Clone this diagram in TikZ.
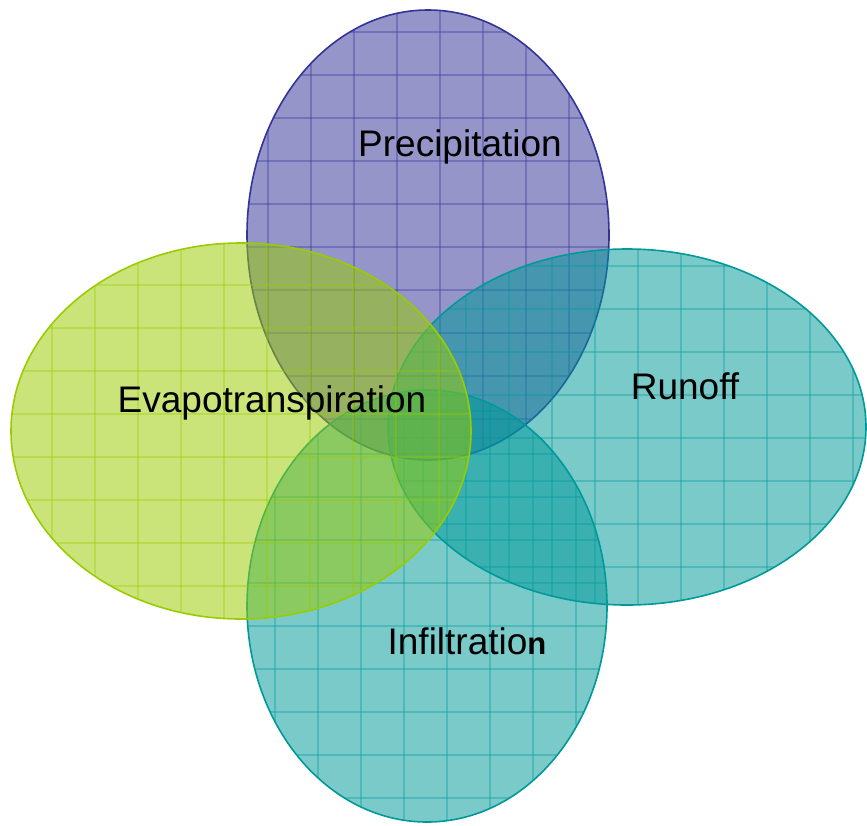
\documentclass[tikz,border=0pt]{standalone}
\usepackage{fontspec}
\setmainfont{Liberation Sans}
\definecolor{cBlue}{HTML}{333399}
\definecolor{cTeal}{HTML}{009999}
\definecolor{cLime}{HTML}{99CC00}
\tikzset{
  petal/.style={draw=#1, line width=1.6pt, fill=#1, fill opacity=0.52},
  gridlines/.style={draw=#1, line width=1.5pt, draw opacity=0.35},
  lbl/.style={font=\fontsize{37}{40}\selectfont, text=black, inner sep=0pt}
}
\newcommand{\petalshape}[6]{%
  \path[petal=#1] (#2,#3) ellipse [x radius=#4, y radius=#5];
  \begin{scope}
    \clip (#2,#3) ellipse [x radius=#4, y radius=#5];
    \foreach \k in {-6,...,6} {
      \path[gridlines=#1] ({#2+\k*43+#6},{#3-#5}) -- ({#2+\k*43+#6},{#3+#5});
      \path[gridlines=#1] ({#2-#4},{#3+\k*43+#6}) -- ({#2+#4},{#3+\k*43+#6});
    }
  \end{scope}
}
\begin{document}
\begin{tikzpicture}[x=1pt,y=-1pt]
\useasboundingbox (0,0) rectangle (867,825);
\petalshape{cBlue}{428}{235}{181}{225}{12}
\petalshape{cTeal}{627}{427}{239}{178}{11}
\petalshape{cTeal}{427}{606}{180}{216}{20}
\petalshape{cLime}{241}{431}{230}{188}{26}
\node[lbl] (prec) at (460,147) {Precipitation};
\node[lbl] (run) at (685,386) {Runoff};
\node[lbl] (evap) at (272,403) {Evapotranspiration};
\node[lbl] (infl) at (467,641) {Infiltratio{\bfseries\fontsize{31}{34}\selectfont n}};
\end{tikzpicture}
\end{document}
